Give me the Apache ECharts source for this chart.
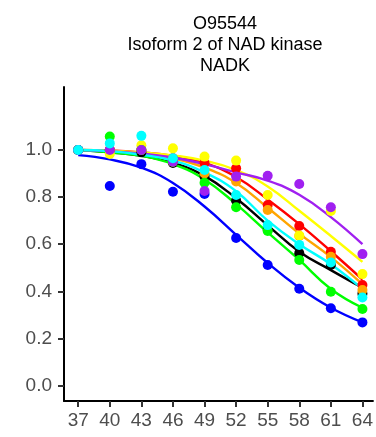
<!DOCTYPE html>
<html>
<head>
<meta charset="utf-8">
<script src="https://cdn.jsdelivr.net/npm/echarts@6/dist/echarts.min.js"></script>
<style>
html,body{margin:0;padding:0;background:#fff;}
#chart{width:376px;height:437px;}
</style>
</head>
<body>
<div id="chart"></div>
<script>
// ---- data ----
const titleLines = ["O95544", "Isoform 2 of NAD kinase", "NADK"];
const temps = [37, 40, 43, 46, 49, 52, 55, 58, 61, 64];
const yTicks = [0, 0.2, 0.4, 0.6, 0.8, 1.0];
const seriesNames = ["black", "red", "orange", "yellow", "green", "blue", "purple", "cyan"];
const seriesColors = ["#000000", "#FF0000", "#FFA500", "#FFFF00", "#00FF00", "#0000FF", "#A020F0", "#00FFFF"];

// measured points
const ptsBlack  = [1.0, 1.0, 0.99, 0.945, 0.887, 0.785, 0.66, 0.562, 0.512, 0.39];
const ptsRed    = [1.0, 1.0, 1.0, 0.965, 0.945, 0.922, 0.766, 0.677, 0.568, 0.427];
const ptsOrange = [1.0, 1.0, 1.0, 0.95, 0.9, 0.866, 0.745, 0.635, 0.547, 0.405];
const ptsYellow = [1.0, 0.983, 1.02, 1.007, 0.972, 0.955, 0.809, 0.637, 0.741, 0.473];
const ptsGreen  = [1.0, 1.057, 1.0, 0.95, 0.861, 0.757, 0.656, 0.533, 0.398, 0.325];
const ptsBlue   = [1.0, 0.847, 0.94, 0.823, 0.813, 0.626, 0.512, 0.411, 0.328, 0.268];
const ptsPurple = [1.0, 1.0, 1.0, 0.95, 0.826, 0.887, 0.891, 0.856, 0.757, 0.558];
const ptsCyan   = [1.0, 1.028, 1.06, 0.965, 0.915, 0.809, 0.681, 0.597, 0.522, 0.374];

// fitted curves at each temperature
const fitBlack  = [1.0, 0.99, 0.975, 0.945, 0.89, 0.795, 0.68, 0.568, 0.49, 0.415];
const fitRed    = [1.0, 0.998, 0.99, 0.975, 0.945, 0.885, 0.79, 0.685, 0.57, 0.45];
const fitOrange = [1.0, 0.995, 0.985, 0.965, 0.925, 0.86, 0.755, 0.645, 0.545, 0.43];
const fitYellow = [1.0, 0.997, 0.99, 0.977, 0.955, 0.915, 0.845, 0.742, 0.635, 0.525];
const fitGreen  = [1.0, 0.99, 0.975, 0.94, 0.875, 0.77, 0.65, 0.533, 0.41, 0.33];
const fitBlue   = [0.978, 0.96, 0.925, 0.86, 0.76, 0.64, 0.52, 0.415, 0.33, 0.268];
const fitPurple = [1.0, 0.995, 0.985, 0.968, 0.94, 0.905, 0.87, 0.81, 0.715, 0.6];
const fitCyan   = [1.0, 0.995, 0.98, 0.955, 0.905, 0.825, 0.7, 0.6, 0.515, 0.41];

const allPts = [ptsBlack, ptsRed, ptsOrange, ptsYellow, ptsGreen, ptsBlue, ptsPurple, ptsCyan];
const allFits = [fitBlack, fitRed, fitOrange, fitYellow, fitGreen, fitBlue, fitPurple, fitCyan];

const chart = echarts.init(document.getElementById('chart'), null, {renderer: 'canvas'});

const series = [];
seriesNames.forEach((n, i) => {
  series.push({
    name: n + '-fit', type: 'line', smooth: 0.45, showSymbol: false, silent: true,
    data: temps.map((t, j) => [t, allFits[i][j]]),
    lineStyle: {color: seriesColors[i], width: 2.4}, z: 2
  });
});
seriesNames.forEach((n, i) => {
  series.push({
    name: n, type: 'scatter', symbolSize: 10,
    data: temps.map((t, j) => [t, allPts[i][j]]),
    itemStyle: {color: seriesColors[i], opacity: 1}, z: 3
  });
});

chart.setOption({
  animation: false,
  backgroundColor: '#ffffff',
  textStyle: {fontFamily: 'Liberation Sans, Arial, sans-serif'},
  title: {
    text: titleLines.join('\n'),
    left: 220, top: 9, textAlign: 'center',
    textStyle: {fontSize: 18, fontWeight: 'normal', color: '#000', lineHeight: 21, fontFamily: 'Liberation Sans, Arial, sans-serif'}
  },
  grid: {left: 64, right: 0, top: 87, bottom: 36, containLabel: false},
  xAxis: {
    type: 'value', min: 35.65, max: 65.0,
    axisLine: {show: true, onZero: false, lineStyle: {color: '#000', width: 2}},
    axisTick: {show: true, length: 6, customValues: temps, lineStyle: {color: '#333', width: 2}},
    axisLabel: {customValues: temps, fontSize: 19, color: '#4D4D4D', margin: 10, fontFamily: 'Liberation Sans, Arial, sans-serif'},
    splitLine: {show: false}
  },
  yAxis: {
    type: 'value', min: -0.0658, max: 1.2675,
    axisLine: {show: true, onZero: false, lineStyle: {color: '#000', width: 2}},
    axisTick: {show: true, length: 6, customValues: yTicks, lineStyle: {color: '#333', width: 2}},
    axisLabel: {customValues: yTicks, fontSize: 19, color: '#4D4D4D', margin: 12,
      formatter: v => Number(v).toFixed(1), fontFamily: 'Liberation Sans, Arial, sans-serif'},
    splitLine: {show: false}
  },
  series: series
});
</script>
</body>
</html>
